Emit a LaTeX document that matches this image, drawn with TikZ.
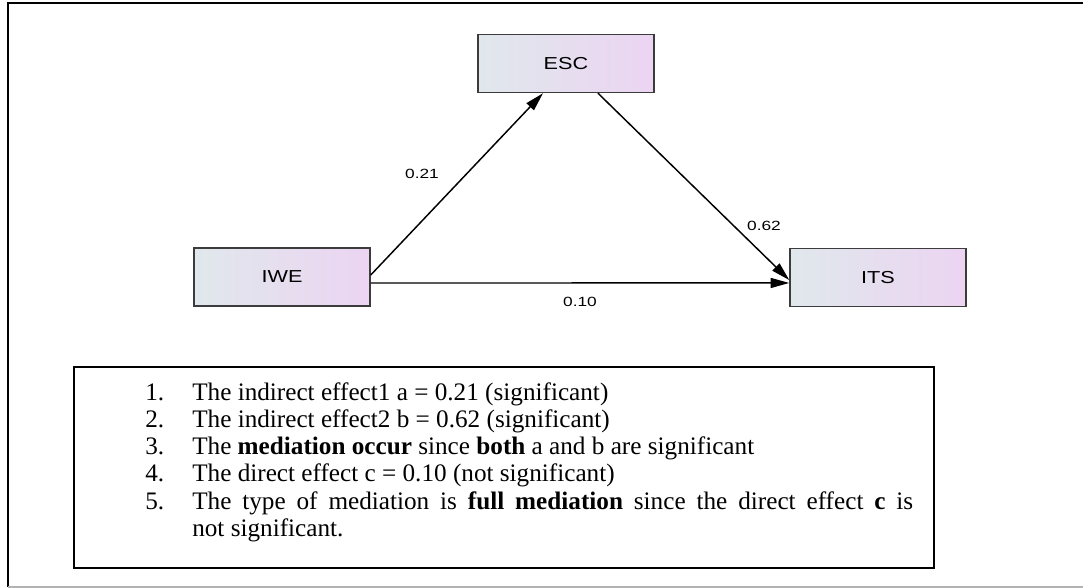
\documentclass[tikz,border=0pt]{standalone}
\usepackage{fontspec}
\setmainfont{Liberation Serif}
\newfontfamily\labfont[FakeStretch=1.25]{Liberation Sans}
\newfontfamily\edgefont[FakeStretch=1.3]{Liberation Sans}
\newfontfamily\listfont{Liberation Serif}
\usetikzlibrary{arrows.meta}
\definecolor{cleft}{RGB}{224,232,236}
\definecolor{cright}{RGB}{236,212,242}
\definecolor{boxgray}{RGB}{60,60,60}
\begin{document}
\begin{tikzpicture}[x=0.75pt,y=-0.75pt,
  var/.style={draw=boxgray, line width=1.1pt, left color=cleft, right color=cright,
    minimum width=132pt, minimum height=43.5pt, inner sep=0pt,
    font=\labfont\fontsize{13}{15}\selectfont},
  arr/.style={line width=1.1pt, -{Triangle[length=14pt,width=7.5pt]}},
  elab/.style={inner sep=0pt, font=\edgefont\fontsize{10}{12}\selectfont},
  numtxt/.style={anchor=base west, inner sep=0pt, font=\listfont\fontsize{18.9}{21}\selectfont},
  listbox/.style={draw, line width=1.5pt, minimum width=645pt, minimum height=150.75pt, inner sep=0pt}
]
\useasboundingbox (0,0) rectangle (1083,588);
% outer frame
\draw[line width=1.5pt] (1090,3) -- (8,3) -- (8,587);
\draw[gray!60, line width=1pt] (8,587) -- (1090,587);

% variables
\node[var] (ESC) at (566,63.5) {ESC};
\node[var] (IWE) at (282,277) {IWE};
\node[var] (ITS) at (878,277.5) {ITS};

% paths
\draw[arr] ([yshift=1.5pt]IWE.east) -- ([xshift=-17.25pt]ESC.south);
\draw[arr] ([xshift=24pt]ESC.south) -- ([yshift=-1.9pt]ITS.west);
\draw[arr] ([yshift=-4.5pt]IWE.east) -- ([yshift=-4.1pt]ITS.west);

\node[elab] (la) at (422,174) {0.21};
\node[elab] (lb) at (764,226) {0.62};
\node[elab] (lc) at (580,302) {0.10};

% list box
\node[listbox] (tb) at (504,467.5) {};
\node[numtxt] (n1) at (145,400) {1.};
\node[numtxt] (n2) at (145,427.3) {2.};
\node[numtxt] (n3) at (145,454.6) {3.};
\node[numtxt] (n4) at (145,481.9) {4.};
\node[numtxt] (n5) at (145,509.2) {5.};
\node[numtxt] (t1) at (192,400) {The indirect effect1 a = 0.21 (significant)};
\node[numtxt] (t2) at (192,427.3) {The indirect effect2 b = 0.62 (significant)};
\node[numtxt] (t3) at (192,454.6) {The \textbf{mediation occur} since \textbf{both} a and b are significant};
\node[numtxt] (t4) at (192,481.9) {The direct effect c = 0.10 (not significant)};
\node[numtxt] (t5) at (192,509.2) {\makebox[540.75pt][s]{The type of mediation is \textbf{full mediation} since the direct effect \textbf{c} is}};
\node[numtxt] (t6) at (192,536.5) {not significant.};
\end{tikzpicture}
\end{document}
